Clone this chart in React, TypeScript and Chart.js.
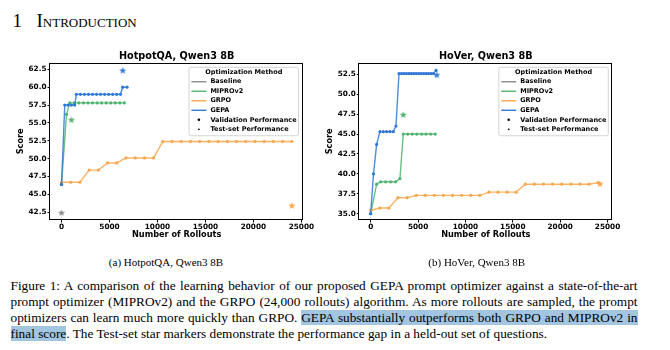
import React, { useEffect, useRef } from "react";
import { Chart, registerables } from "chart.js";
Chart.register(...registerables);

const FONT = "'DejaVu Sans', sans-serif";
const SERIF = "'Liberation Serif', 'Times New Roman', serif";

// ---------------- HotpotQA, Qwen3 8B ----------------
const hotpotBaselineX = [0];
const hotpotBaselineY = [46.4];
const hotpotBaselineTest = [0, 42.4];

const hotpotMiproX = [0, 520, 860, 1330, 1810, 2280, 2760, 3230, 3710, 4180, 4660, 5130, 5600, 6080, 6550];
const hotpotMiproY = [46.4, 56.2, 57.8, 57.8, 57.8, 57.8, 57.8, 57.8, 57.8, 57.8, 57.8, 57.8, 57.8, 57.8, 57.8];
const hotpotMiproTest = [1040, 55.4];

const grpoRollouts = [0, 960, 1920, 2880, 3840, 4800, 5760, 6720, 7680, 8640, 9600, 10560, 11520, 12480, 13440, 14400, 15360, 16320, 17280, 18240, 19200, 20160, 21120, 22080, 23040, 24000];
const hotpotGrpoY = [46.7, 46.7, 46.7, 48.4, 48.4, 49.4, 49.4, 50.1, 50.1, 50.1, 50.1, 52.4, 52.4, 52.4, 52.4, 52.4, 52.4, 52.4, 52.4, 52.4, 52.4, 52.4, 52.4, 52.4, 52.4, 52.4];
const hotpotGrpoTest = [24000, 43.4];

const hotpotGepaX = [0, 340, 690, 1030, 1380, 1550, 1970, 2390, 2810, 3230, 3650, 4070, 4490, 4910, 5330, 5750, 6140, 6380, 6830];
const hotpotGepaY = [46.4, 57.5, 57.5, 57.5, 57.5, 59.0, 59.0, 59.0, 59.0, 59.0, 59.0, 59.0, 59.0, 59.0, 59.0, 59.0, 59.0, 60.0, 60.0];
const hotpotGepaTest = [6380, 62.3];

// ---------------- HoVer, Qwen3 8B ----------------
const hoverMiproX = [0, 630, 1060, 1580, 2110, 2640, 3090, 3440, 3910, 4390, 4860, 5390, 5840, 6340, 6820];
const hoverMiproY = [35.0, 38.7, 39.0, 39.0, 39.0, 39.0, 39.4, 45.0, 45.0, 45.0, 45.0, 45.0, 45.0, 45.0, 45.0];
const hoverMiproTest = [3440, 47.4];

const hoverGrpoY = [35.4, 35.7, 35.7, 37.0, 37.0, 37.3, 37.3, 37.3, 37.3, 37.3, 37.3, 37.3, 37.3, 37.7, 37.7, 37.7, 37.7, 38.7, 38.7, 38.7, 38.7, 38.7, 38.7, 38.7, 38.7, 38.9];
const hoverGrpoTest = [24200, 38.7];

const hoverGepaX = [0, 300, 630, 980, 1330, 1690, 2040, 2390, 2670, 2990, 3250, 3510, 3770, 4030, 4290, 4550, 4810, 5070, 5330, 5590, 5850, 6110, 6370, 6620, 6900];
const hoverGepaY = [35.0, 40.0, 43.7, 45.3, 45.3, 45.3, 45.3, 45.3, 46.0, 52.6, 52.6, 52.6, 52.6, 52.6, 52.6, 52.6, 52.6, 52.6, 52.6, 52.6, 52.6, 52.6, 52.6, 52.6, 53.0];
const hoverGepaTest = [6970, 52.4];

// ticks / labels
const xTicks = [0, 5000, 10000, 15000, 20000, 25000];
const hotpotYTicks = [42.5, 45.0, 47.5, 50.0, 52.5, 55.0, 57.5, 60.0, 62.5];
const hoverYTicks = [35.0, 37.5, 40.0, 42.5, 45.0, 47.5, 50.0, 52.5];
const LEGEND_TITLE = "Optimization Method";
const LEGEND_LABELS = ["Baseline", "MIPROv2", "GRPO", "GEPA", "Validation Performance", "Test-set Performance"];

const COLORS = {
  baseline: "#8c8c8c",
  mipro: "#4db46e",
  grpo: "#f8a64b",
  gepa: "#2f78d6",
};

function alpha(hex: string, a: number) {
  const n = parseInt(hex.slice(1), 16);
  return `rgba(${(n >> 16) & 255},${(n >> 8) & 255},${n & 255},${a})`;
}

function makeStar(color: string, r: number) {
  const c = document.createElement("canvas");
  const s = Math.ceil(r * 2 + 2);
  c.width = s;
  c.height = s;
  const ctx = c.getContext("2d")!;
  ctx.beginPath();
  for (let i = 0; i < 10; i++) {
    const rad = i % 2 === 0 ? r : r * 0.42;
    const a = -Math.PI / 2 + (i * Math.PI) / 5;
    const x = s / 2 + rad * Math.cos(a);
    const y = s / 2 + rad * Math.sin(a);
    if (i === 0) ctx.moveTo(x, y);
    else ctx.lineTo(x, y);
  }
  ctx.closePath();
  ctx.fillStyle = color;
  ctx.fill();
  return c;
}

const pts = (xs: number[], ys: number[]) => xs.map((x, i) => ({ x, y: ys[i] }));

function lineDs(label: string, xs: number[], ys: number[], color: string) {
  return {
    label,
    data: pts(xs, ys),
    borderColor: alpha(color, 0.85),
    backgroundColor: color,
    pointBackgroundColor: color,
    pointBorderColor: color,
    pointBorderWidth: 0,
    borderWidth: 1.4,
    pointRadius: 1.6,
    tension: 0,
    showLine: true,
  };
}

function starDs(label: string, p: number[], color: string) {
  return {
    label,
    data: [{ x: p[0], y: p[1] }],
    showLine: false,
    pointStyle: makeStar(color, 3.8),
    pointRadius: 4,
    backgroundColor: color,
    borderColor: color,
  };
}

const framePlugin = {
  id: "frame",
  afterDatasetsDraw(chart: any) {
    const { ctx, chartArea } = chart;
    const { left, top, right, bottom } = chartArea;
    ctx.save();
    ctx.strokeStyle = "#000";
    ctx.lineWidth = 1;
    ctx.strokeRect(Math.round(left) - 0.5, Math.round(top) + 0.5, Math.round(right) - Math.round(left), Math.round(bottom) - Math.round(top) - 1);
    ctx.restore();
  },
};

function legendPlugin(rightOffset: number) {
  return {
    id: "mplLegend",
    afterDraw(chart: any) {
      const { ctx, chartArea } = chart;
      const w = 109.5;
      const h = 68.4;
      const x0 = chartArea.right - rightOffset - w;
      const y0 = chartArea.top + 4.6;
      ctx.save();
      ctx.beginPath();
      ctx.roundRect(x0, y0, w, h, 2);
      ctx.fillStyle = "rgba(255,255,255,0.85)";
      ctx.fill();
      ctx.strokeStyle = "#d4d4d4";
      ctx.lineWidth = 1;
      ctx.stroke();
      ctx.fillStyle = "#000";
      ctx.font = `bold 6.5px ${FONT}`;
      ctx.textBaseline = "middle";
      ctx.textAlign = "center";
      ctx.fillText(LEGEND_TITLE, x0 + w / 2, y0 + 4.9);
      ctx.textAlign = "left";
      const lineColors = [COLORS.baseline, COLORS.mipro, COLORS.grpo, COLORS.gepa];
      LEGEND_LABELS.forEach((lab, i) => {
        const y = y0 + 14.4 + i * 9.52;
        if (i < 4) {
          ctx.strokeStyle = lineColors[i];
          ctx.lineWidth = 1.4;
          ctx.beginPath();
          ctx.moveTo(x0 + 2.4, y);
          ctx.lineTo(x0 + 17.4, y);
          ctx.stroke();
        } else {
          ctx.fillStyle = "#000";
          ctx.beginPath();
          ctx.arc(x0 + 9.9, y, i === 4 ? 1.3 : 0.9, 0, Math.PI * 2);
          ctx.fill();
        }
        ctx.fillStyle = "#000";
        ctx.fillText(lab, x0 + 21.4, y);
      });
      ctx.restore();
    },
  };
}

interface PanelCfg {
  title: string;
  datasets: any[];
  xMin: number;
  xMax: number;
  yMin: number;
  yMax: number;
  yTicks: number[];
  yAxisWidth: number;
  padRight: number;
  scorePad: number;
  legendRight: number;
}

function buildConfig(cfg: PanelCfg): any {
  const tickFont = { family: FONT, size: 7.3, weight: "bold" };
  const titleFont = { family: FONT, size: 8.2, weight: "bold" };
  return {
    type: "line",
    data: { datasets: cfg.datasets },
    options: {
      responsive: false,
      animation: false,
      events: [],
      layout: { padding: { left: 0, top: 0, bottom: 0, right: cfg.padRight } },
      plugins: {
        legend: { display: false },
        tooltip: { enabled: false },
        title: {
          display: true,
          text: cfg.title,
          fullSize: false,
          color: "#000",
          font: { family: FONT, size: 9.7, weight: "bold" },
          padding: { top: 11.1, bottom: 0 },
        },
      },
      scales: {
        x: {
          type: "linear",
          min: cfg.xMin,
          max: cfg.xMax,
          border: { display: false },
          grid: { display: true, drawOnChartArea: false, drawTicks: true, tickLength: 2.5, tickColor: "#000", tickWidth: 1, color: "#000" },
          ticks: {
            autoSkip: false,
            maxRotation: 0,
            padding: 0.5,
            color: "#000",
            font: tickFont,
            callback: (v: any) => String(v),
          },
          afterBuildTicks: (s: any) => {
            s.ticks = xTicks.map((v) => ({ value: v }));
          },
          title: { display: true, text: "Number of Rollouts", color: "#000", font: titleFont, padding: { top: 0, bottom: 10.1 } },
          afterFit: (s: any) => {
            s.height = 30;
          },
        },
        y: {
          type: "linear",
          min: cfg.yMin,
          max: cfg.yMax,
          border: { display: false },
          grid: { display: true, drawOnChartArea: false, drawTicks: true, tickLength: 2.5, tickColor: "#000", tickWidth: 1, color: "#000" },
          ticks: {
            autoSkip: false,
            padding: 1,
            color: "#000",
            font: tickFont,
            callback: (v: any) => Number(v).toFixed(1),
          },
          afterBuildTicks: (s: any) => {
            s.ticks = cfg.yTicks.map((v) => ({ value: v }));
          },
          title: { display: true, text: "Score", color: "#000", font: titleFont, padding: { top: cfg.scorePad, bottom: 0 } },
          afterFit: (s: any) => {
            s.width = cfg.yAxisWidth;
          },
        },
      },
    },
    plugins: [framePlugin, legendPlugin(cfg.legendRight)],
  };
}

function Panel({ which, left }: { which: "hotpot" | "hover"; left: number }) {
  const ref = useRef<HTMLCanvasElement>(null);
  useEffect(() => {
    let cfg: PanelCfg;
    if (which === "hotpot") {
      cfg = {
        title: "HotpotQA, Qwen3 8B",
        datasets: [
          starDs("GEPA test", hotpotGepaTest, COLORS.gepa),
          starDs("GRPO test", hotpotGrpoTest, COLORS.grpo),
          starDs("MIPROv2 test", hotpotMiproTest, COLORS.mipro),
          starDs("Baseline test", hotpotBaselineTest, COLORS.baseline),
          lineDs("GEPA", hotpotGepaX, hotpotGepaY, COLORS.gepa),
          lineDs("GRPO", grpoRollouts, hotpotGrpoY, COLORS.grpo),
          lineDs("MIPROv2", hotpotMiproX, hotpotMiproY, COLORS.mipro),
          lineDs("Baseline", hotpotBaselineX, hotpotBaselineY, COLORS.baseline),
        ],
        xMin: -1200,
        xMax: 25200,
        yMin: 41.42,
        yMax: 63.42,
        yTicks: hotpotYTicks,
        yAxisWidth: 50,
        padRight: 16.7,
        scorePad: 16.1,
        legendRight: 4.8,
      };
    } else {
      cfg = {
        title: "HoVer, Qwen3 8B",
        datasets: [
          starDs("GEPA test", hoverGepaTest, COLORS.gepa),
          starDs("GRPO test", hoverGrpoTest, COLORS.grpo),
          starDs("MIPROv2 test", hoverMiproTest, COLORS.mipro),
          lineDs("GEPA", hoverGepaX, hoverGepaY, COLORS.gepa),
          lineDs("GRPO", grpoRollouts, hoverGrpoY, COLORS.grpo),
          lineDs("MIPROv2", hoverMiproX, hoverMiproY, COLORS.mipro),
        ],
        xMin: -1200,
        xMax: 25500,
        yMin: 34.2,
        yMax: 53.96,
        yTicks: hoverYTicks,
        yAxisWidth: 49.3,
        padRight: 17.7,
        scorePad: 15.4,
        legendRight: 4,
      };
    }
    const chart = new Chart(ref.current!, buildConfig(cfg));
    return () => chart.destroy();
  }, [which]);
  return (
    <canvas
      ref={ref}
      width={320}
      height={210}
      style={{ position: "absolute", left, top: 40, width: 320, height: 210 }}
    />
  );
}

const HL = "#a2c5e2";

export default function App() {
  const lineStyle: React.CSSProperties = {
    position: "absolute",
    left: 10.5,
    width: 627,
    fontFamily: SERIF,
    fontSize: 13.3,
    lineHeight: "15.8px",
    color: "#000",
    whiteSpace: "nowrap",
  };
  const just: React.CSSProperties = { textAlign: "justify", textAlignLast: "justify" as any };
  const sub: React.CSSProperties = { position: "absolute", width: 200, top: 256.8, textAlign: "center", fontFamily: SERIF, fontSize: 11, lineHeight: "11px", whiteSpace: "nowrap", color: "#000" };
  return (
    <div style={{ position: "absolute", left: 0, top: 0, width: 670, height: 350, background: "#fff", overflow: "hidden" }}>
      <div style={{ position: "absolute", left: 12.5, top: 10.6, fontFamily: SERIF, fontSize: 19, lineHeight: "19px", color: "#000", whiteSpace: "nowrap" }}>
        1
      </div>
      <div style={{ position: "absolute", left: 36.5, top: 10.6, fontFamily: SERIF, fontSize: 19, lineHeight: "19px", color: "#000", whiteSpace: "nowrap", fontVariant: "small-caps" }}>
        Introduction
      </div>

      <Panel which="hotpot" left={0} />
      <Panel which="hover" left={310} />

      <div style={{ ...sub, left: 66 }}>(a) HotpotQA, Qwen3 8B</div>
      <div style={{ ...sub, left: 376.7 }}>(b) HoVer, Qwen3 8B</div>

      <div style={{ ...lineStyle, ...just, top: 278.3 }}>
        Figure 1: A comparison of the learning behavior of our proposed GEPA prompt optimizer against a state-of-the-art
      </div>
      <div style={{ ...lineStyle, ...just, top: 294.1 }}>
        prompt optimizer (MIPROv2) and the GRPO (24,000 rollouts) algorithm. As more rollouts are sampled, the prompt
      </div>
      <div style={{ ...lineStyle, ...just, top: 309.9 }}>
        optimizers can learn much more quickly than GRPO. <span style={{ background: HL }}>GEPA substantially outperforms both GRPO and MIPROv2 in</span>
      </div>
      <div style={{ ...lineStyle, top: 325.7 }}>
        <span style={{ background: HL }}>final score</span>. The Test-set star markers demonstrate the performance gap in a held-out set of questions.
      </div>
    </div>
  );
}
